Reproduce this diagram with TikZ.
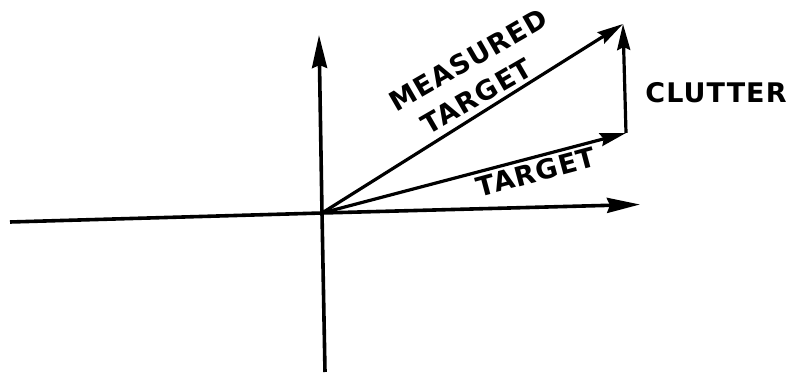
\documentclass[tikz,border=0pt]{standalone}
\usepackage{fontspec}
\newfontfamily\lblfont[LetterSpace=4]{DejaVu Sans Bold}
\usetikzlibrary{arrows.meta}
\begin{document}
\begin{tikzpicture}[x=1pt,y=-1pt,
  axis/.style={line width=3.6pt},
  vec/.style={line width=3.2pt,-{Stealth[length=26pt,width=13pt,inset=3pt]}},
  axarrow/.style={line width=3.6pt,-{Stealth[length=33pt,width=15pt,inset=3pt]}},
  lbl/.style={font=\lblfont\fontsize{27}{27}\selectfont, inner sep=0pt}]
\useasboundingbox (0,0) rectangle (796,374);
\coordinate (O) at (322,213);
\coordinate (L) at (10,222);
\coordinate (R) at (640,204.5);
\coordinate (B) at (325,372);
\coordinate (T) at (319,35);
\coordinate (TG) at (626,133);
\coordinate (MT) at (623,24);
\draw[axis] (L) -- (O);
\draw[axarrow] (O) -- (R);
\draw[axis] (B) -- (O);
\draw[axarrow] (O) -- (T);
\draw[vec] (O) -- (TG);
\draw[vec] (O) -- (MT);
\draw[vec] (TG) -- (MT);
\node[lbl] (clut) at (716,93) {CLUTTER};
\node[lbl,rotate=15] (tgt) at (536,172) {TARGET};
\node[lbl,rotate=30] (meas) at (468,60) {MEASURED};
\node[lbl,rotate=30] (mtgt) at (477,96) {TARGET};
\end{tikzpicture}
\end{document}
